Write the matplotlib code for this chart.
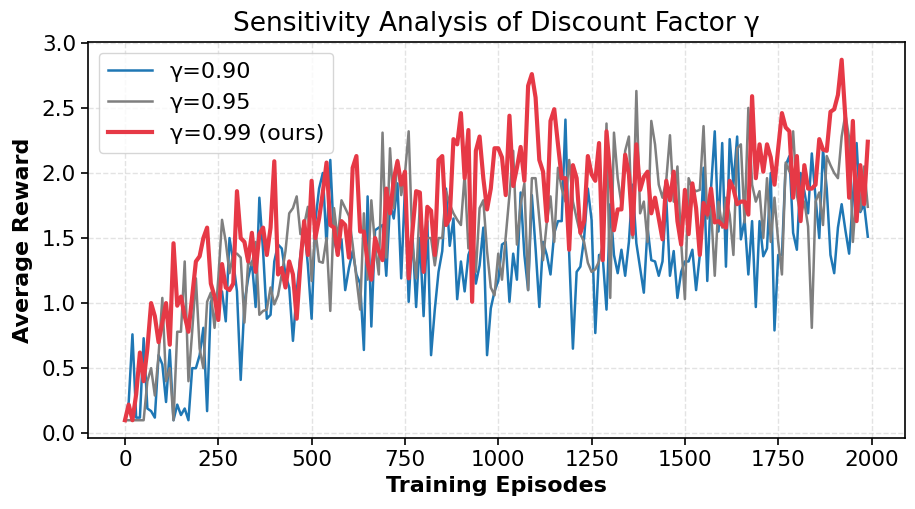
import numpy as np
import matplotlib
matplotlib.use("Agg")
import matplotlib.pyplot as plt

episodes = list(range(0, 2000, 10))

reward_090 = [
    0.10, 0.24, 0.76, 0.12, 0.12, 0.73, 0.19, 0.17, 0.12, 0.60, 0.53, 0.24, 0.64, 0.10, 0.22, 0.14, 0.19, 0.10, 0.50, 0.50, 0.60, 0.81, 0.17, 1.01, 1.06,
    1.04, 1.09, 0.86, 1.50, 1.32, 1.09, 0.41, 1.00, 1.19, 1.32, 0.97, 1.81, 1.40, 0.88, 0.91, 1.32, 1.45, 1.42, 1.22, 1.12, 0.71, 1.09, 1.37, 1.60, 1.29,
    0.88, 1.63, 1.88, 2.00, 1.44, 2.10, 1.49, 1.37, 1.49, 1.10, 1.27, 1.40, 1.22, 1.15, 0.64, 1.82, 0.82, 1.56, 1.58, 1.60, 1.21, 1.76, 1.65, 1.92, 1.19,
    1.88, 1.01, 1.53, 0.97, 1.50, 0.90, 1.63, 0.60, 0.95, 1.24, 1.40, 1.88, 1.44, 1.65, 1.03, 1.32, 1.09, 1.37, 1.45, 1.15, 1.29, 1.58, 0.60, 0.96, 1.09,
    1.17, 1.45, 1.47, 1.01, 1.38, 1.18, 1.85, 1.37, 1.10, 1.83, 1.42, 0.97, 1.47, 1.37, 1.22, 1.54, 1.63, 1.63, 2.41, 1.38, 0.65, 1.24, 1.28, 1.50, 1.88,
    1.64, 0.77, 1.37, 1.35, 0.95, 1.76, 1.37, 1.23, 1.41, 1.21, 1.47, 1.91, 1.46, 1.27, 1.08, 1.58, 1.33, 1.32, 1.21, 1.32, 1.81, 1.21, 1.40, 1.04, 1.24,
    1.32, 1.32, 1.41, 1.10, 1.37, 2.04, 1.17, 1.88, 2.32, 1.55, 2.23, 1.28, 2.26, 1.91, 2.28, 1.49, 1.64, 1.22, 1.63, 0.97, 1.63, 1.36, 1.42, 2.00, 0.79,
    1.37, 1.37, 2.06, 2.13, 1.54, 1.41, 2.00, 1.86, 1.69, 2.15, 1.81, 1.50, 2.18, 1.88, 1.37, 1.23, 1.58, 1.76, 1.56, 1.38, 1.81, 2.23, 1.70, 1.76, 1.51,
]

reward_095 = [
    0.10, 0.10, 0.10, 0.10, 0.10, 0.10, 0.40, 0.50, 0.29, 0.60, 1.04, 0.40, 0.50, 0.10, 0.78, 0.78, 1.32, 0.40, 0.78, 1.19, 0.65, 0.50, 1.01, 1.08, 0.81,
    1.19, 1.64, 1.47, 1.23, 1.38, 1.38, 1.35, 0.85, 1.32, 1.29, 1.47, 0.91, 0.94, 0.95, 1.12, 0.99, 1.06, 1.22, 1.40, 1.69, 1.73, 1.82, 1.53, 1.60, 1.74,
    1.17, 1.56, 1.32, 1.31, 1.50, 0.94, 1.73, 1.49, 1.79, 1.73, 1.67, 1.45, 1.19, 0.95, 1.69, 1.18, 1.79, 1.44, 1.22, 2.31, 1.35, 2.19, 1.73, 2.10, 1.83,
    1.99, 2.32, 1.45, 1.19, 1.76, 1.46, 1.50, 1.50, 1.29, 1.50, 1.50, 1.86, 1.76, 1.69, 1.64, 1.60, 1.99, 1.42, 1.66, 1.24, 1.73, 1.79, 1.40, 1.12, 1.06,
    1.38, 1.18, 1.51, 1.83, 2.17, 1.45, 1.76, 1.92, 1.10, 1.96, 1.96, 1.65, 1.33, 1.62, 1.82, 1.47, 2.04, 1.88, 1.78, 2.10, 1.78, 1.65, 1.53, 1.47, 1.31,
    1.24, 1.26, 1.32, 1.45, 2.38, 1.04, 2.31, 1.96, 1.76, 2.17, 2.28, 1.50, 2.63, 1.69, 1.78, 1.47, 2.40, 2.22, 1.91, 1.81, 1.94, 2.29, 1.78, 2.05, 1.47,
    1.03, 1.96, 1.88, 1.86, 1.87, 2.36, 1.65, 1.73, 1.21, 1.78, 1.58, 1.81, 1.68, 1.37, 2.19, 2.22, 1.62, 2.50, 1.91, 1.78, 1.86, 1.50, 1.96, 1.47, 1.81,
    1.47, 1.22, 2.08, 2.01, 2.32, 1.83, 1.68, 1.78, 1.59, 0.81, 1.78, 1.85, 1.60, 2.13, 2.06, 2.00, 1.96, 2.28, 2.45, 2.27, 1.47, 1.87, 1.71, 2.05, 1.74,
]

reward_099 = [
    0.10, 0.22, 0.10, 0.30, 0.62, 0.40, 0.65, 1.00, 0.90, 0.70, 0.85, 1.00, 0.68, 1.46, 0.98, 1.05, 0.90, 0.78, 1.05, 1.32, 1.36, 1.50, 1.58, 1.15, 1.05,
    0.87, 1.30, 1.12, 1.10, 1.15, 1.86, 1.50, 1.47, 1.32, 1.54, 1.24, 1.53, 1.58, 1.37, 1.58, 2.09, 1.22, 1.27, 1.12, 1.32, 1.22, 0.88, 1.30, 1.63, 1.37,
    1.94, 1.50, 1.65, 1.85, 2.08, 1.60, 1.58, 1.37, 1.63, 1.60, 1.35, 2.04, 2.13, 1.55, 1.55, 1.31, 1.18, 1.50, 1.40, 1.33, 1.88, 1.69, 1.95, 2.09, 1.91,
    2.01, 1.19, 1.55, 1.86, 1.85, 1.24, 1.74, 1.71, 1.37, 2.10, 2.13, 1.60, 1.65, 2.26, 2.22, 2.46, 1.96, 2.33, 1.01, 2.17, 2.28, 1.96, 1.72, 1.88, 2.19,
    2.19, 2.12, 1.83, 2.44, 1.90, 2.04, 2.20, 1.94, 2.67, 2.76, 2.58, 2.10, 2.01, 1.63, 2.40, 2.49, 2.22, 1.96, 1.96, 1.41, 2.06, 1.96, 1.54, 1.63, 2.13,
    1.99, 1.94, 2.23, 1.33, 2.32, 1.99, 1.56, 1.72, 1.72, 2.14, 1.99, 1.53, 2.22, 1.87, 1.97, 2.01, 1.69, 1.81, 1.65, 1.49, 1.94, 1.79, 2.01, 1.63, 1.45,
    1.87, 1.53, 1.92, 1.73, 1.37, 1.77, 1.68, 1.88, 1.62, 1.63, 1.60, 1.58, 1.94, 1.88, 1.76, 1.78, 1.78, 1.68, 2.59, 1.96, 2.22, 2.01, 2.22, 2.12, 1.91,
    2.19, 2.46, 2.35, 2.32, 1.81, 2.13, 1.63, 2.06, 1.88, 1.88, 1.91, 2.26, 2.18, 2.17, 2.47, 2.49, 2.60, 2.87, 2.42, 1.81, 2.40, 1.63, 2.06, 1.76, 2.24,
]

labels = ["γ=0.90", "γ=0.95", "γ=0.99 (ours)"]

fig = plt.figure(figsize=(9.15, 5.09), dpi=100)
ax = fig.add_axes([0.096, 0.139, 0.893, 0.779])

ax.plot(episodes, reward_090, color="#1f77b4", lw=1.8, label=labels[0])
ax.plot(episodes, reward_095, color="#7f7f7f", lw=1.8, label=labels[1])
ax.plot(episodes, reward_099, color="#e63946", lw=3.0, label=labels[2])

ax.set_title("Sensitivity Analysis of Discount Factor γ", fontsize=19, pad=8)
ax.set_xlabel("Training Episodes", fontsize=16, fontweight="bold", labelpad=4)
ax.set_ylabel("Average Reward", fontsize=16, fontweight="bold", labelpad=6)
ax.tick_params(labelsize=15.5, length=5, width=1.2)
for s in ax.spines.values():
    s.set_linewidth(1.2)
ax.grid(True, linestyle="--", alpha=0.35, linewidth=1.0)
ax.legend(loc="upper left", fontsize=16, borderaxespad=0.5)

fig.savefig("out.png", dpi=100)
